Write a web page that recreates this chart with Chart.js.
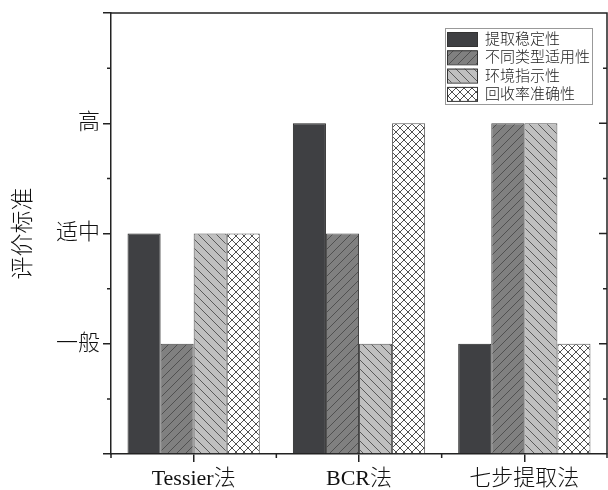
<!DOCTYPE html>
<html>
<head>
<meta charset="utf-8">
<script src="https://cdn.jsdelivr.net/npm/chart.js@4"></script>
<style>
  html, body { margin: 0; padding: 0; background: #fff; }
</style>
</head>
<body>
<canvas id="chart" width="608" height="490"></canvas>
<script>
/* Data: 1 = 一般, 2 = 适中, 3 = 高 */
const methods = ["Tessier法", "BCR法", "七步提取法"];
const levelLabels = ["", "一般", "适中", "高", ""];
const seriesNames = ["提取稳定性", "不同类型适用性", "环境指示性", "回收率准确性"];
const extractionStability = [2, 3, 1];
const applicability = [1, 2, 3];
const environmentIndication = [2, 1, 3];
const recoveryAccuracy = [2, 3, 1];

const FONT = '"Liberation Serif", "Noto Sans CJK SC", serif';
const canvas = document.getElementById("chart");
const ctx = canvas.getContext("2d");

/* hatch fills like the origin-style bars */
function makePattern(bg, line, kind, size) {
  const c = document.createElement("canvas");
  c.width = size;
  c.height = size;
  const g = c.getContext("2d");
  g.fillStyle = bg;
  g.fillRect(0, 0, size, size);
  g.strokeStyle = line;
  g.lineWidth = 1;
  g.beginPath();
  if (kind === "/" || kind === "x") {
    g.moveTo(-1, size + 1); g.lineTo(size + 1, -1);
    g.moveTo(-1, 1); g.lineTo(1, -1);
    g.moveTo(size - 1, size + 1); g.lineTo(size + 1, size - 1);
  }
  if (kind === "\\" || kind === "x") {
    g.moveTo(-1, -1); g.lineTo(size + 1, size + 1);
    g.moveTo(size - 1, -1); g.lineTo(size + 1, 1);
    g.moveTo(-1, size - 1); g.lineTo(1, size + 1);
  }
  g.stroke();
  return ctx.createPattern(c, "repeat");
}

const fills = [
  "#3f4043",
  makePattern("#808080", "#505050", "/", 9),
  makePattern("#c0c0c0", "#5a5a5a", "\\", 9),
  makePattern("#ffffff", "#505050", "x", 8)
];
const borders = ["#222", "#444", "#555", "#555"];
const values = [extractionStability, applicability, environmentIndication, recoveryAccuracy];

/* frame, mirror ticks and minor ticks */
const framePlugin = {
  id: "frame",
  afterDraw(chart) {
    const { ctx: c, chartArea: a, scales: { x, y } } = chart;
    c.save();
    c.strokeStyle = "#222";
    c.lineWidth = 1.5;
    c.beginPath();
    c.moveTo(a.left, a.top);
    c.lineTo(a.right, a.top);
    c.lineTo(a.right, a.bottom);
    for (let v = 0.5; v < 4; v += 1) {
      const py = y.getPixelForValue(v);
      c.moveTo(a.left - 4, py); c.lineTo(a.left, py);
      c.moveTo(a.right - 4, py); c.lineTo(a.right, py);
    }
    for (let v = 1; v < 4; v += 1) {
      const py = y.getPixelForValue(v);
      c.moveTo(a.right - 8, py); c.lineTo(a.right, py);
    }
    for (let i = 0; i <= methods.length; i += 1) {
      const px = x.getPixelForValue(i - 0.5);
      c.moveTo(px, a.bottom); c.lineTo(px, a.bottom + 4);
    }
    c.stroke();
    c.restore();
  }
};

/* legend box in the upper right corner */
const legendPlugin = {
  id: "boxLegend",
  afterDraw(chart) {
    const c = chart.ctx;
    const left = 445, top = 28, w = 147, h = 76;
    c.save();
    c.fillStyle = "#fff";
    c.fillRect(left, top, w, h);
    c.strokeStyle = "#999";
    c.lineWidth = 1;
    c.strokeRect(left + 0.5, top + 0.5, w, h);
    chart.data.datasets.forEach((ds, i) => {
      const sy = top + 4 + i * 18.3;
      c.fillStyle = ds.backgroundColor;
      c.fillRect(447, sy, 30, 14);
      c.strokeStyle = "#333";
      c.strokeRect(447.5, sy + 0.5, 30, 14);
      c.fillStyle = "#222";
      c.font = `300 15px ${FONT}`;
      c.textBaseline = "middle";
      c.fillText(ds.label, 485, sy + 8);
    });
    c.restore();
  }
};

new Chart(ctx, {
  type: "bar",
  data: {
    labels: methods,
    datasets: seriesNames.map((name, i) => ({
      label: name,
      data: values[i],
      backgroundColor: fills[i],
      borderColor: borders[i],
      borderWidth: 1
    }))
  },
  options: {
    responsive: false,
    animation: false,
    devicePixelRatio: 1,
    layout: { padding: { top: 13, right: 1, left: 0, bottom: 0 } },
    plugins: { legend: { display: false }, tooltip: { enabled: false } },
    datasets: { bar: { categoryPercentage: 0.8, barPercentage: 1 } },
    scales: {
      x: {
        grid: {
          offset: false,
          drawOnChartArea: false,
          tickLength: 8,
          color: "#222",
          lineWidth: 1.5
        },
        border: { color: "#222", width: 1.5 },
        ticks: { color: "#111", padding: 4, font: { family: FONT, size: 22, weight: "300" } },
        afterFit(scale) { scale.height = 36; }
      },
      y: {
        min: 0,
        max: 4,
        grid: {
          drawOnChartArea: false,
          tickLength: 8,
          color: "#222",
          lineWidth: 1.5
        },
        border: { color: "#222", width: 1.5 },
        ticks: {
          stepSize: 1,
          padding: 3,
          color: "#111",
          font: { family: FONT, size: 22, weight: "300" },
          callback: (v) => levelLabels[v]
        },
        title: {
          display: true,
          text: "评价标准",
          color: "#111",
          padding: 10,
          font: { family: FONT, size: 23, weight: "300" }
        },
        afterFit(scale) {
          scale.width = 111;
          scale.paddingTop = 0;
          scale.paddingBottom = 0;
        }
      }
    }
  },
  plugins: [framePlugin, legendPlugin]
});
</script>
</body>
</html>
